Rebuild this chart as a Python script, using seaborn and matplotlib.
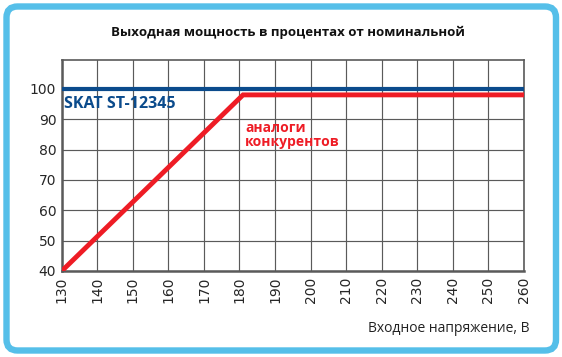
"""
Output power vs input voltage: SKAT vs competitors.
"""
import matplotlib
matplotlib.use("Agg")
import matplotlib.pyplot as plt
import matplotlib.transforms as mtransforms
from matplotlib.patches import FancyBboxPatch
import pandas as pd
import seaborn as sns

# ---------------------------------------------------------------------------
# Data
# ---------------------------------------------------------------------------
skat_voltage = [130, 260]
skat_power = [100, 100]

rival_voltage = [130, 181, 260]
rival_power = [40, 98, 98]

x_ticks = list(range(130, 261, 10))
y_ticks = list(range(40, 101, 10))

title = "Выходная мощность в процентах от номинальной"
x_label = "Входное напряжение, В"
skat_label = "SKAT ST-12345"
rival_label = "аналоги\nконкурентов"

BLUE = "#0b4b8c"
RED = "#ee1c25"
GRID = "#5a5a5a"
FRAME = "#55bfe9"

# ---------------------------------------------------------------------------
# Plot
# ---------------------------------------------------------------------------
sns.set_style("white")
plt.rcParams["font.family"] = ["Open Sans", "DejaVu Sans"]

fig = plt.figure(figsize=(5.62, 3.57), dpi=100)
ax = fig.add_axes([0.110, 0.241, 0.822, 0.591])

skat_df = pd.DataFrame({"voltage": skat_voltage, "power": skat_power})
rival_df = pd.DataFrame({"voltage": rival_voltage, "power": rival_power})

sns.lineplot(data=rival_df, x="voltage", y="power", ax=ax, color=RED,
             linewidth=3.5, solid_joinstyle="miter", zorder=3)
sns.lineplot(data=skat_df, x="voltage", y="power", ax=ax, color=BLUE,
             linewidth=3.0, zorder=4)

ax.set_xlim(130, 260)
ax.set_ylim(40, 109.5)
ax.set_xticks(x_ticks)
ax.set_yticks(y_ticks)
ax.set_xticklabels([str(v) for v in x_ticks], rotation=90, fontsize=10,
                   family="DejaVu Sans")
ax.set_yticklabels([str(v) for v in y_ticks], fontsize=10,
                   family="DejaVu Sans")
ax.tick_params(length=0, pad=4)
ax.set_xlabel("")
ax.set_ylabel("")

ax.grid(True, color=GRID, linewidth=0.85)
ax.set_axisbelow(True)
for side in ax.spines.values():
    side.set_color(GRID)
    side.set_linewidth(1.2)
ax.spines["left"].set_linewidth(1.8)
ax.spines["bottom"].set_linewidth(1.8)

ax.text(130.6, 95.1, skat_label, color=BLUE, fontsize=11.5, fontweight="bold",
        ha="left", va="center")
ax.text(181.6, 84.8, rival_label, color=RED, fontsize=10, fontweight="bold",
        ha="left", va="center", linespacing=0.95)

fig.text(0.512, 0.908, title, fontsize=9.5, fontweight="bold", ha="center",
         va="center", color="#111111")
fig.text(0.942, 0.08, x_label, fontsize=10, ha="right", va="center",
         color="#222222")

# rounded light-blue frame around the whole picture
frame = FancyBboxPatch((6.5, 6.5), 549.5, 344,
                       boxstyle="round,pad=0,rounding_size=11",
                       linewidth=4.6, edgecolor=FRAME, facecolor="none",
                       transform=mtransforms.IdentityTransform())
fig.patches.append(frame)

fig.savefig("out.png", dpi=100)
